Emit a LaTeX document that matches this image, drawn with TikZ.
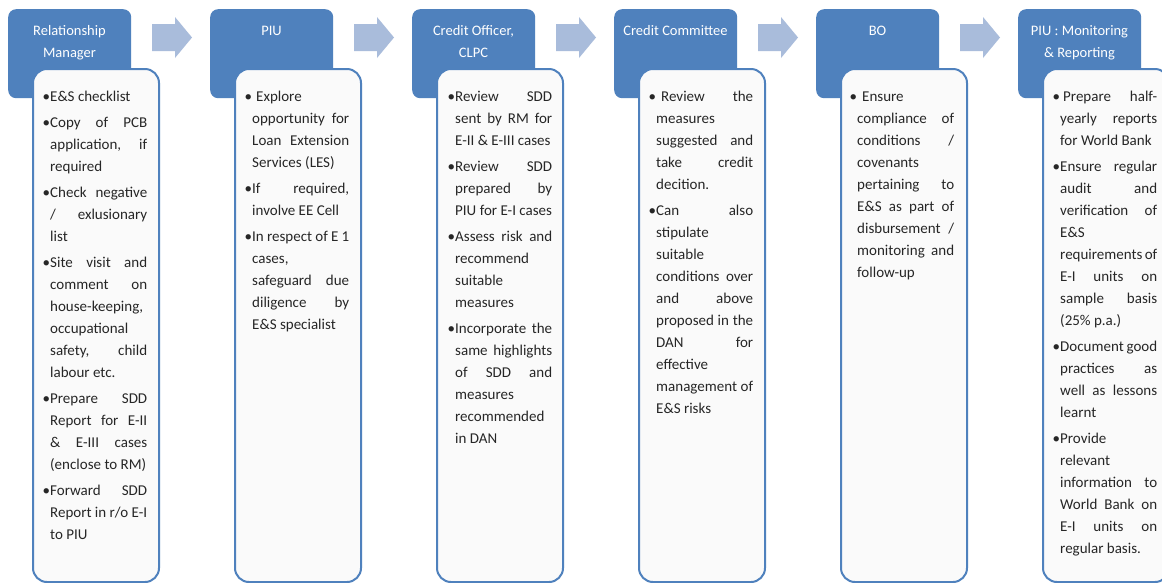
\documentclass[tikz,border=0pt]{standalone}
\usepackage{fontspec}
\setmainfont{Carlito}
\definecolor{hdr}{HTML}{4F81BD}
\definecolor{arr}{HTML}{A9BCDB}
\definecolor{bodyfill}{HTML}{FAFAFA}
\definecolor{txt}{HTML}{262626}
\newlength\tw \setlength\tw{97pt}
\newcommand\J[1]{\hbox to \tw{#1}}
\newcommand\R[1]{\hbox to \tw{#1\hfil}}
\newcommand\bl{\llap{\textbullet}}
\newcommand\gap{\vskip 4pt}
\hbadness=10000
\tikzset{
  hdrbox/.style={rectangle, rounded corners=8pt, fill=hdr, draw=none, inner sep=0pt, anchor=north west, minimum width=123pt, minimum height=89pt},
  bodybox/.style={rectangle, rounded corners=14pt, fill=bodyfill, draw=hdr, line width=2pt, inner sep=0pt, anchor=north west, minimum width=126pt, minimum height=513pt},
  hdrtext/.style={anchor=base, inner sep=0pt, text=white, font=\fontsize{14.5}{22}\selectfont},
  bodytext/.style={anchor=base west, inner sep=0pt, text=txt, font=\fontsize{15}{22}\selectfont},
  blockarrow/.style={fill=arr, draw=none}
}
\begin{document}
\begin{tikzpicture}[x=1pt,y=-1pt]
\path[use as bounding box] (0,0) rectangle (1162,582);
\clip (0,0) rectangle (1162,582);
\fill[white] (0,0) rectangle (1162,582);
% block arrows
\foreach \i in {0,...,4}{
  \pgfmathsetmacro\A{152+202*\i}
  \fill[blockarrow] (\A,24) -- (\A+23,24) -- (\A+23,17) -- (\A+40,37.5) -- (\A+23,58) -- (\A+23,51) -- (\A,51) -- cycle;
}
% headers and bodies
\foreach \i in {0,...,5}{
  \pgfmathsetmacro\X{8+202*\i}
  \node[hdrbox] (h\i) at (\X,9) {};
  \node[bodybox] (b\i) at (\X+24,68) {};
}
% header titles
\foreach \i/\t in {0/{Relationship\\Manager}, 1/{PIU}, 2/{Credit Officer,\\CLPC}, 3/{Credit Committee}, 4/{BO}, 5/{PIU : Monitoring\\\& Reporting}}{
  \pgfmathsetmacro\X{8+202*\i+61.5}
  \node[hdrtext] (t\i) at (\X,35) {\parbox[t]{123pt}{\centering \t}};
}
% body texts
\node[bodytext] (c0) at (50,101) {\parbox[t]{\tw}{%
\R{\bl E\&S checklist}\gap
\J{\bl Copy of PCB}\J{application, if}\R{required}\gap
\J{\bl Check negative}\J{/ exlusionary}\R{list}\gap
\J{\bl Site visit and}\J{comment on}\R{house-keeping,}\R{occupational}\J{safety, child}\R{labour etc.}\gap
\J{\bl Prepare SDD}\J{Report for E-II}\J{\& E-III cases}\R{(enclose to RM)}\gap
\J{\bl Forward SDD}\J{Report in r/o E-I}\R{to PIU}}};
\node[bodytext] (c1) at (252,101) {\parbox[t]{\tw}{%
\R{\bl\hspace{4pt}Explore}\J{opportunity for}\J{Loan Extension}\R{Services (LES)}\gap
\J{\bl If required,}\R{involve EE Cell}\gap
\R{\bl In respect of E 1}\R{cases,}\J{safeguard due}\J{diligence by}\R{E\&S specialist}}};
\node[bodytext] (c2) at (455,101) {\parbox[t]{\tw}{%
\J{\bl Review SDD}\J{sent by RM for}\R{E-II \& E-III cases}\gap
\J{\bl Review SDD}\J{prepared by}\R{PIU for E-I cases}\gap
\J{\bl Assess risk and}\R{recommend}\R{suitable}\R{measures}\gap
\J{\bl Incorporate the}\J{same highlights}\J{of SDD and}\R{measures}\R{recommended}\R{in DAN}}};
\node[bodytext] (c3) at (656,101) {\parbox[t]{\tw}{%
\J{\bl\hspace{5pt}Review the}\R{measures}\J{suggested and}\J{take credit}\R{decition.}\gap
\J{\bl Can also}\R{stipulate}\R{suitable}\J{conditions over}\J{and above}\J{proposed in the}\J{DAN for}\R{effective}\J{management of}\R{E\&S risks}}};
\node[bodytext] (c4) at (857,101) {\parbox[t]{\tw}{%
\R{\bl\hspace{5pt}Ensure}\J{compliance of}\J{conditions /}\R{covenants}\J{pertaining to}\J{E\&S as part of}\J{disbursement /}\J{monitoring and}\R{follow-up}}};
\node[bodytext] (c5) at (1060,101) {\parbox[t]{\tw}{%
\J{\bl\hspace{3pt}Prepare half-}\J{yearly reports}\R{for World Bank}\gap
\J{\bl Ensure regular}\J{audit and}\J{verification of}\R{E\&S}\J{requirements of}\J{E-I units on}\J{sample basis}\R{(25\% p.a.)}\gap
\J{\bl Document good}\J{practices as}\J{well as lessons}\R{learnt}\gap
\R{\bl Provide}\R{relevant}\J{information to}\J{World Bank on}\J{E-I units on}\R{regular basis.}}};
\end{tikzpicture}
\end{document}
